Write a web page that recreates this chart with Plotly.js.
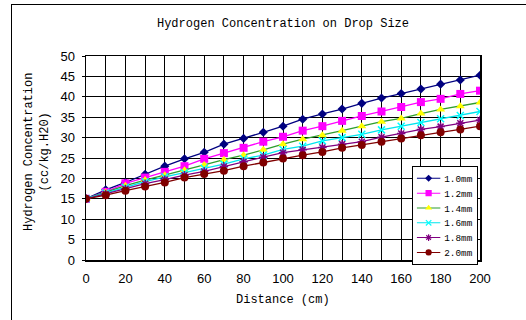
<!DOCTYPE html>
<html><head><meta charset="utf-8">
<script src="https://cdn.plot.ly/plotly-3.0.1.min.js"></script>
<style>
html,body{margin:0;padding:0;background:#fff;overflow:hidden;}
#frame{position:absolute;left:11px;top:4px;width:520px;height:320px;border:1.5px solid #000;box-sizing:border-box;pointer-events:none;z-index:5;}
#chart{position:absolute;left:0;top:0;width:526px;height:320px;}
</style></head>
<body>
<div id="chart"></div><div id="frame"></div>
<script>
const distance = [0,10,20,30,40,50,60,70,80,90,100,110,120,130,140,150,160,170,180,190,200];
const names = ['1.0mm','1.2mm','1.4mm','1.6mm','1.8mm','2.0mm'];
const d10 = [15,17.2,19.0,21.0,23.0,24.8,26.4,28.4,29.8,31.3,32.8,34.5,35.8,37.0,38.4,39.7,40.8,41.9,43.1,44.1,45.3];
const d12 = [15,16.7,18.8,20.2,21.6,23.0,24.8,26.2,27.5,29.0,30.2,31.7,32.8,34.1,35.3,36.4,37.5,38.7,39.5,40.7,41.5];
const d14 = [15,16.6,18.2,19.6,20.8,22.0,23.3,24.6,25.7,27.0,28.4,29.6,30.6,31.7,32.8,33.9,34.7,35.9,36.9,37.7,38.6];
const d16 = [15,16.4,17.8,19.2,20.4,21.4,22.5,23.5,24.8,25.7,27.1,27.9,29.2,30.0,30.8,31.9,32.8,33.7,34.6,35.4,36.4];
const d18 = [15,16.2,17.4,18.7,19.7,20.8,21.7,22.9,24.1,25.2,26.3,27.0,27.6,28.4,29.0,30.1,31.0,32.0,32.7,33.5,34.3];
const d20 = [15,15.9,17.0,18.0,19.0,20.2,21.1,21.9,23.0,23.9,24.9,25.7,26.5,27.5,28.2,29.0,29.8,30.6,31.3,32.0,32.8];
const series = [d10,d12,d14,d16,d18,d20];

const lineColors = ['#000080','#FF00FF','#2E9E2E','#00E5EE','#800080','#800000'];
const markerColors = ['#000080','#FF00FF','#FFFF00','#00FFFF','#800080','#800000'];
const symbols = ['diamond','square','triangle-up','x-thin-open','asterisk-open','circle'];
const sizes = [7,8,8,7,7,8];

const traces = series.map((ys,i)=>({
  x: distance, y: ys, name: names[i], type:'scatter', mode:'lines+markers',
  line:{color:lineColors[i], width:1.3},
  marker:{symbol:symbols[i], size:sizes[i], color:markerColors[i],
          line:{color:markerColors[i], width: (i===3||i===4)?1.5:0}}
}));

const mono = 'Liberation Mono, DejaVu Sans Mono, monospace';
const sans = 'Liberation Sans, Arial, sans-serif';

const layout = {
  width:526, height:320,
  margin:{l:86, r:46, t:56, b:60},
  paper_bgcolor:'#fff', plot_bgcolor:'#fff',
  showlegend:true,
  title:{text:'Hydrogen Concentration on Drop Size', font:{family:mono, size:12, color:'#000'},
         x:0.5, xanchor:'center', y:0.928, yanchor:'middle', xref:'paper'},
  xaxis:{range:[0,200], dtick:20, tick0:0, showgrid:true, gridcolor:'#000', gridwidth:1,
         minor:{dtick:10, showgrid:true, gridcolor:'#000', gridwidth:1},
         showline:true, linecolor:'#000', linewidth:1.5, mirror:true,
         ticks:'', zeroline:false, ticklabelstandoff:6,
         tickfont:{family:sans, size:13, color:'#000'}},
  yaxis:{range:[0,50], dtick:5, tick0:0, showgrid:true, gridcolor:'#000', gridwidth:1,
         showline:true, linecolor:'#000', linewidth:1.5, mirror:true,
         ticks:'outside', ticklen:3, tickcolor:'#000', zeroline:false, ticklabelstandoff:4,
         tickfont:{family:sans, size:13, color:'#000'}},
  legend:{x:0.827, y:0.46, xanchor:'left', yanchor:'top', bgcolor:'#fff',
          bordercolor:'#000', borderwidth:1.3, font:{family:mono, size:12, color:'#000'},
          tracegroupgap:0, itemwidth:30},
  annotations:[
    {text:'Hydrogen Concentration<br>(cc/kg.H20)', xref:'paper', yref:'paper', x:-0.124, y:0.53,
     textangle:-90, showarrow:false, font:{family:mono, size:12, color:'#000'}, xanchor:'center', yanchor:'middle'},
    {text:'Distance (cm)', xref:'paper', yref:'paper', x:0.5, y:-0.196, showarrow:false,
     font:{family:mono, size:12, color:'#000'}, xanchor:'center', yanchor:'middle'}
  ]
};
Plotly.newPlot('chart', traces, layout, {displayModeBar:false, staticPlot:true}).then(gd=>{
  const lg = gd.querySelector('g.legend');
  if (lg) lg.setAttribute('transform', 'translate(412,166) scale(0.78)');
});
</script>
</body></html>
